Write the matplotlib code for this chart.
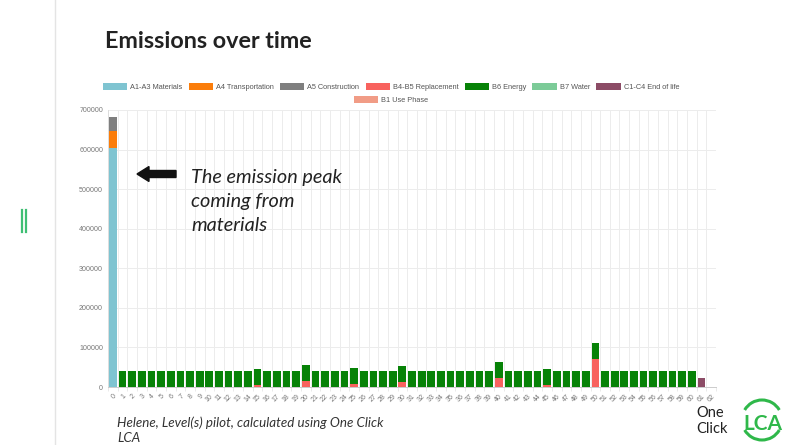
import matplotlib
matplotlib.use("Agg")
import matplotlib.pyplot as plt
from matplotlib.patches import FancyArrow, Arc
from matplotlib.transforms import IdentityTransform
from matplotlib.lines import Line2D

years = [str(i) for i in range(63)]

series_names = ["A1-A3 Materials", "A4 Transportation", "A5 Construction",
                "B4-B5 Replacement", "B6 Energy", "B7 Water",
                "C1-C4 End of life", "B1 Use Phase"]
series_colors = ["#7fc4d1", "#fb7d0a", "#7f7f7f", "#f8625e", "#078207",
                 "#7ccb98", "#8c4c66", "#f19c86"]

materials = [605000] + [0] * 62
transport = [42000] + [0] * 62
construction = [36000] + [0] * 62
replacement = [0, 0, 0, 0, 0, 0, 0, 0, 0, 0,
               0, 0, 0, 0, 0, 5000, 0, 0, 0, 0,
               16000, 0, 0, 0, 0, 7000, 0, 0, 0, 0,
               13000, 0, 0, 0, 0, 0, 0, 0, 0, 0,
               24000, 0, 0, 0, 0, 5000, 0, 0, 0, 0,
               70000, 0, 0, 0, 0, 0, 0, 0, 0, 0,
               0, 0, 0]
energy = [0,
          40000, 40000, 40000, 40000, 40000, 40000, 40000, 40000, 40000, 40000,
          40000, 40000, 40000, 40000, 40000, 40000, 40000, 40000, 40000, 40000,
          40000, 40000, 40000, 40000, 40000, 40000, 40000, 40000, 40000, 40000,
          40000, 40000, 40000, 40000, 40000, 40000, 40000, 40000, 40000, 40000,
          40000, 40000, 40000, 40000, 40000, 40000, 40000, 40000, 40000, 40000,
          40000, 40000, 40000, 40000, 40000, 40000, 40000, 40000, 40000, 40000,
          0, 0]
water = [0] * 63
end_of_life = [0] * 61 + [24000, 0]
use_phase = [0] * 63

yticks = [0, 100000, 200000, 300000, 400000, 500000, 600000, 700000]

W, H = 788, 445
fig = plt.figure(figsize=(W / 100, H / 100), dpi=100)
fig.patch.set_facecolor("white")

def fx(px):
    return px / W

def fy(py):
    return 1 - py / H

left, right, top, bottom = 108, 716, 110, 387
ax = fig.add_axes([fx(left), fy(bottom), (right - left) / W, (bottom - top) / H])

all_series = [materials, transport, construction, replacement, energy,
              water, end_of_life, use_phase]
x = list(range(len(years)))
base = [0] * len(years)
handles = []
for name, col, vals in zip(series_names, series_colors, all_series):
    b = ax.bar(x, vals, bottom=base, width=0.8, color=col, label=name,
               edgecolor="none", zorder=3)
    handles.append(b)
    base = [p + q for p, q in zip(base, vals)]

ax.set_xlim(-0.5, len(years) - 0.5)
ax.set_ylim(0, 700000)
ax.set_yticks(yticks)
ax.set_yticklabels([str(v) for v in yticks])
ax.set_xticks(x)
ax.set_xticklabels(years, rotation=45, ha="right", rotation_mode="anchor")
ax.set_xticks([i - 0.5 for i in range(len(years) + 1)], minor=True)
ax.tick_params(axis="x", which="major", length=0, labelsize=5,
               labelcolor="#777777", pad=4)
ax.tick_params(axis="x", which="minor", length=3, color="#e6e6e6")
ax.tick_params(axis="y", length=0, labelsize=5.1,
               labelcolor="#777777", pad=3.5)
for tl in ax.get_yticklabels():
    tl.set_fontfamily("Liberation Sans")
for tl in ax.get_xticklabels():
    tl.set_fontfamily("Liberation Sans")
ax.grid(True, axis="x", which="minor", color="#ececec", lw=0.7, zorder=0)
ax.grid(True, axis="y", which="major", color="#ececec", lw=0.7, zorder=0)
for s in ["top", "right"]:
    ax.spines[s].set_visible(False)
ax.spines["left"].set_color("#dddddd")
ax.spines["bottom"].set_color("#cccccc")
ax.spines["left"].set_linewidth(0.7)
ax.spines["bottom"].set_linewidth(0.7)

leg_kw = dict(frameon=False, prop={"family": "Liberation Sans", "size": 5.3},
              handlelength=3.3, handleheight=1.1, handletextpad=0.4,
              columnspacing=0.85, labelcolor="#555555", borderpad=0,
              borderaxespad=0)
fig.legend(handles[:7], series_names[:7], ncol=7, loc="center",
           bbox_to_anchor=(fx(391), fy(87)), **leg_kw)
fig.legend(handles[7:], series_names[7:], ncol=1, loc="center",
           bbox_to_anchor=(fx(391), fy(100)), **leg_kw)

# Title
fig.text(fx(105), fy(48), "Emissions over time", fontsize=16.8,
         fontweight="bold", family="Lato", color="#222222", va="baseline")

# Annotation
for i, line in enumerate(["The emission peak", "coming from", "materials"]):
    fig.text(fx(191), fy(183 + 24 * i), line, fontsize=14.3, style="italic",
             family="Lato", color="#222222", va="baseline")
arrow = FancyArrow(176, H - 174, -39, 0, width=7, head_width=15,
                   head_length=12, length_includes_head=True,
                   transform=IdentityTransform(), color="#111111")
fig.add_artist(arrow)

# Footer
fig.text(fx(117), fy(427), "Helene, Level(s) pilot, calculated using One Click",
         fontsize=9.6, style="italic", family="Lato", color="#333333",
         va="baseline")
fig.text(fx(117), fy(442), "LCA", fontsize=9.6, style="italic", family="Lato",
         color="#333333", va="baseline")

# Slide decorations
fig.add_artist(Line2D([fx(55), fx(55)], [0, 1], color="#e4e4e4", lw=1))
fig.add_artist(Line2D([fx(21.5), fx(21.5)], [fy(210), fy(232)], color="#3fbf73", lw=1.6))
fig.add_artist(Line2D([fx(25.5), fx(25.5)], [fy(210), fy(232)], color="#3fbf73", lw=1.6))

# Logo
fig.text(fx(696), fy(417), "One", fontsize=10.5, family="Lato", color="#222222",
         va="baseline")
fig.text(fx(696), fy(433), "Click", fontsize=10.5, family="Lato", color="#222222",
         va="baseline")
fig.text(fx(743), fy(430), "LCA", fontsize=15, family="Lato", fontweight="bold",
         color="#2fb84a", va="baseline")
fig.add_artist(Arc((762, H - 420), 40, 40, theta1=30, theta2=150,
                   transform=IdentityTransform(), color="#2fb84a", lw=2.2))
fig.add_artist(Arc((762, H - 420), 40, 40, theta1=210, theta2=330,
                   transform=IdentityTransform(), color="#2fb84a", lw=2.2))

fig.savefig("out.png", dpi=100, facecolor="white")
